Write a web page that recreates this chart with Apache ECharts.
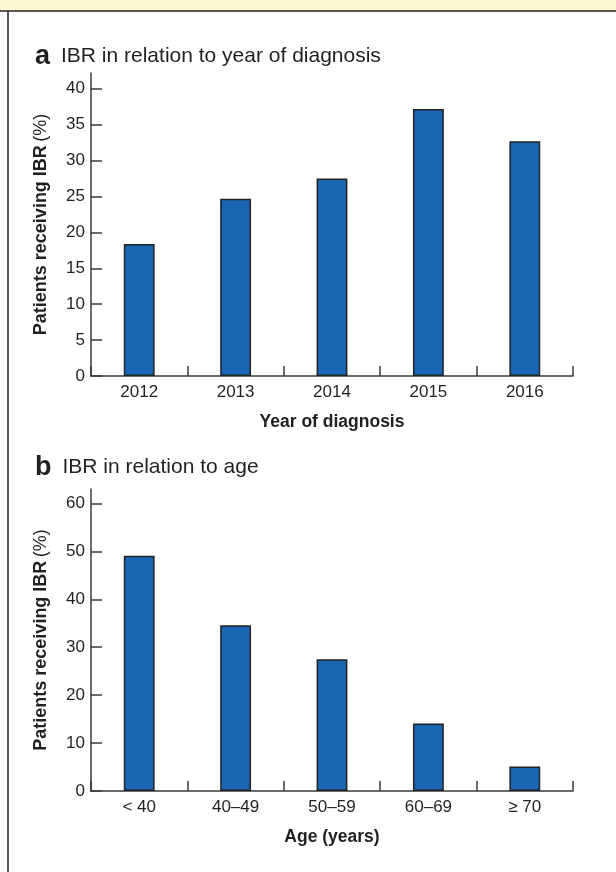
<!DOCTYPE html>
<html>
<head>
<meta charset="utf-8">
<script src="https://cdn.jsdelivr.net/npm/echarts@6/dist/echarts.min.js"></script>
<style>
html,body{margin:0;padding:0;background:#fff;}
#c{width:616px;height:872px;}
</style>
</head>
<body>
<div id="c"></div>
<script>
const yearCategories = ['2012', '2013', '2014', '2015', '2016'];
const yearValues = [18.4, 24.7, 27.5, 37.2, 32.7];
const yearTicks = [0, 5, 10, 15, 20, 25, 30, 35, 40];

const ageCategories = ['< 40', '40\u201349', '50\u201359', '60\u201369', '\u2265 70'];
const ageValues = [49.1, 34.6, 27.5, 14.1, 5.1];
const ageTicks = [0, 10, 20, 30, 40, 50, 60];

const FONT = 'Liberation Sans, Arial, sans-serif';
const TXT = '#231f20';
const AXIS = '#3a3a3a';
const BAR = '#1866b2';

function xAxis(gridIndex, cats, name) {
  return {
    type: 'category', gridIndex, data: cats,
    boundaryGap: true,
    name, nameLocation: 'middle', nameGap: 37,
    nameTextStyle: { fontFamily: FONT, fontSize: 17.5, fontWeight: 'bold', color: TXT },
    axisLine: { show: true, lineStyle: { color: AXIS, width: 1.5 } },
    axisTick: { show: true, interval: 0, alignWithLabel: false, inside: true, length: 10, lineStyle: { color: AXIS, width: 1.5 } },
    axisLabel: { margin: 8, interval: 0, fontFamily: FONT, fontSize: 17, color: TXT }
  };
}
function yAxis(gridIndex, ticks, max) {
  return {
    type: 'value', gridIndex, min: 0, max,
    name: '{b|Patients receiving IBR} {r|(%)}',
    nameLocation: 'middle', nameGap: 41,
    nameTextStyle: {
      rich: {
        b: { fontFamily: FONT, fontSize: 18, fontWeight: 'bold', color: TXT },
        r: { fontFamily: FONT, fontSize: 18, color: TXT }
      }
    },
    splitLine: { show: false },
    axisLine: { show: true, lineStyle: { color: AXIS, width: 1.5 } },
    axisTick: { show: true, inside: true, length: 11, customValues: ticks, lineStyle: { color: AXIS, width: 1.5 } },
    axisLabel: { show: true, margin: 6, customValues: ticks, fontFamily: FONT, fontSize: 17, color: TXT }
  };
}

function titleStyle() {
  return {
    fontWeight: 'normal',
    rich: {
      a: { fontFamily: FONT, fontSize: 27, fontWeight: 'bold', color: TXT, padding: [0, 11, 0, 0] },
      t: { fontFamily: FONT, fontSize: 21, fontWeight: 'normal', color: TXT }
    }
  };
}

const chart = echarts.init(document.getElementById('c'), null, { renderer: 'canvas' });
chart.setOption({
  animation: false,
  backgroundColor: '#fff',
  title: [
    { text: '{a|a}{t|IBR in relation to year of diagnosis}', left: 30, top: 38, textStyle: titleStyle() },
    { text: '{a|b}{t|IBR in relation to age}', left: 30, top: 449, textStyle: titleStyle() }
  ],
  graphic: [
    { type: 'rect', shape: { x: 0, y: 0, width: 616, height: 11 }, style: { fill: '#fdf8d4' }, silent: true },
    { type: 'line', shape: { x1: 0, y1: 11, x2: 616, y2: 11 }, style: { stroke: '#222', lineWidth: 1.5 }, silent: true },
    { type: 'line', shape: { x1: 8, y1: 11, x2: 8, y2: 872 }, style: { stroke: '#222', lineWidth: 1.5 }, silent: true }
  ],
  grid: [
    { left: 91, right: 43, top: 73, bottom: 496 },
    { left: 91, right: 43, top: 489, bottom: 81 }
  ],
  xAxis: [
    xAxis(0, yearCategories, 'Year of diagnosis'),
    xAxis(1, ageCategories, 'Age (years)')
  ],
  yAxis: [
    yAxis(0, yearTicks, 42.2),
    yAxis(1, ageTicks, 63)
  ],
  series: [
    {
      type: 'bar', xAxisIndex: 0, yAxisIndex: 0, data: yearValues, barWidth: '32%',
      itemStyle: { color: BAR, borderColor: '#222', borderWidth: 1.5 }
    },
    {
      type: 'bar', xAxisIndex: 1, yAxisIndex: 1, data: ageValues, barWidth: '32%',
      itemStyle: { color: BAR, borderColor: '#222', borderWidth: 1.5 }
    }
  ]
});
</script>
</body>
</html>
